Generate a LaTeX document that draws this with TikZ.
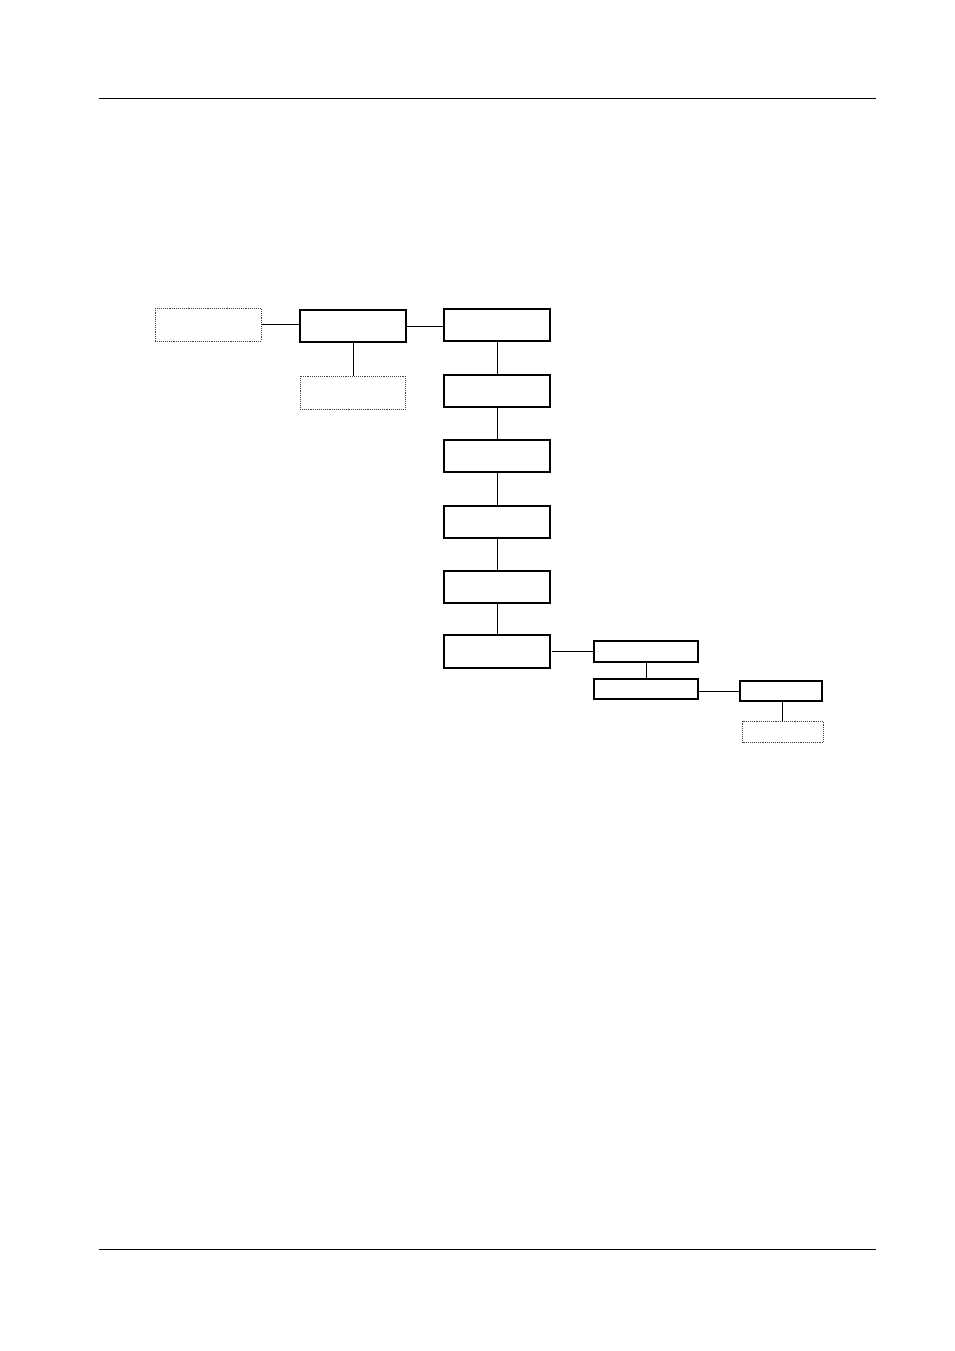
\documentclass[tikz,border=0pt]{standalone}
\begin{document}
\begin{tikzpicture}[x=1pt,y=-1pt,
  solidbox/.style={draw=black,line width=2pt,rectangle,inner sep=0pt,fill=white},
  dotbox/.style={draw=black!75,line width=0.9pt,densely dotted,rectangle,inner sep=0pt},
  conn/.style={line width=1pt,draw=black},
  rule/.style={line width=1pt,draw=black}]
\useasboundingbox[fill=white] (0,0) rectangle (954,1351);
% header and footer rules
\coordinate (tl) at (99,98.5);
\coordinate (tr) at (876,98.5);
\coordinate (bl) at (99,1249.5);
\coordinate (br) at (876,1249.5);
\draw[rule] (tl) -- (tr);
\draw[rule] (bl) -- (br);
% boxes
\node[dotbox,minimum width=105.7pt,minimum height=32.5pt] (A) at (208.3,324.7) {};
\node[solidbox,minimum width=105.4pt,minimum height=32pt] (B) at (353,326) {};
\node[dotbox,minimum width=105pt,minimum height=33pt] (C) at (352.5,392.5) {};
\node[solidbox,minimum width=105.7pt,minimum height=32pt] (D1) at (497,325.3) {};
\node[solidbox,minimum width=105.7pt,minimum height=32pt] (D2) at (497,391.3) {};
\node[solidbox,minimum width=105.7pt,minimum height=32pt] (D3) at (497,456.3) {};
\node[solidbox,minimum width=105.7pt,minimum height=32pt] (D4) at (497,522.3) {};
\node[solidbox,minimum width=105.7pt,minimum height=32pt] (D5) at (497,587.3) {};
\node[solidbox,minimum width=105.7pt,minimum height=32.7pt] (D6) at (497,651.3) {};
\node[solidbox,minimum width=104pt,minimum height=20.7pt] (E1) at (646.3,651.3) {};
\node[solidbox,minimum width=104pt,minimum height=20pt] (E2) at (646.3,689.3) {};
\node[solidbox,minimum width=81.4pt,minimum height=20.3pt] (F) at (781,691.2) {};
\node[dotbox,minimum width=81pt,minimum height=21pt] (G) at (783,731.7) {};
% connectors
\draw[conn] (A.east) -- (A.east -| B.west);
\draw[conn] (B.east) -- (B.east -| D1.west);
\draw[conn] (B.south) -- (B.south |- C.north);
\draw[conn] (D1) -- (D2);
\draw[conn] (D2) -- (D3);
\draw[conn] (D3) -- (D4);
\draw[conn] (D4) -- (D5);
\draw[conn] (D5) -- (D6);
\draw[conn] ([xshift=1pt]D6.east |- E1.west) -- (E1.west);
\draw[conn] (E1) -- (E2);
\draw[conn] (E2.east |- F.west) -- (F.west);
\draw[conn] ([xshift=1.3pt]F.south) -- ([xshift=1.3pt]F.south |- G.north);
\end{tikzpicture}
\end{document}
